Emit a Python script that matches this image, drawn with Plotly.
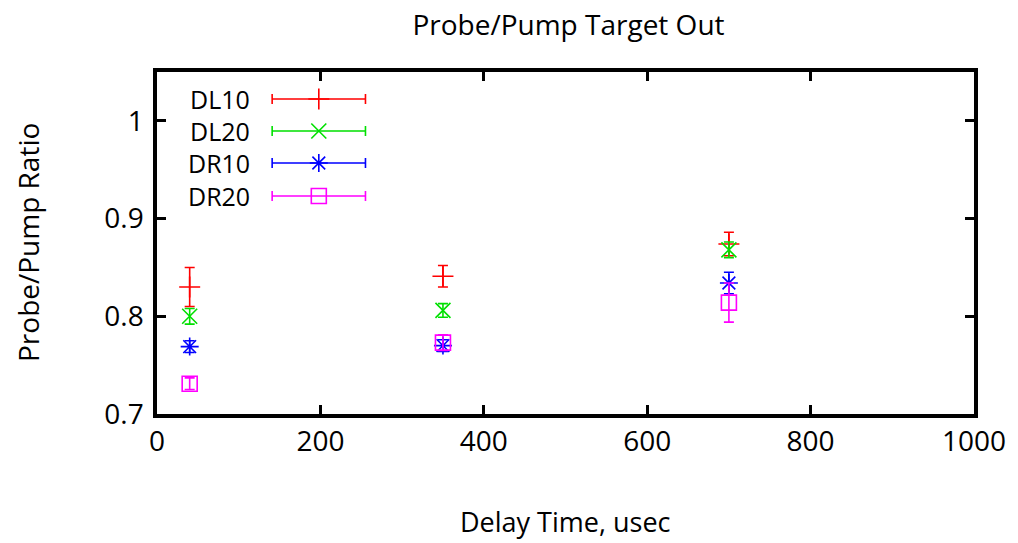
import plotly.graph_objects as go

# ---- data ----
delay = [40, 350, 700]
series_names = ["DL10", "DL20", "DR10", "DR20"]
dl10 = [0.830, 0.841, 0.874]
dl10_err = [0.020, 0.011, 0.012]
dl20 = [0.800, 0.806, 0.868]
dl20_err = [0.008, 0.007, 0.008]
dr10 = [0.769, 0.770, 0.834]
dr10_err = [0.006, 0.006, 0.011]
dr20 = [0.731, 0.773, 0.814]
dr20_err = [0.006, 0.008, 0.020]

x_ticks = [0, 200, 400, 600, 800, 1000]
y_ticks = [0.7, 0.8, 0.9, 1.0]
y_tick_labels = ["0.7", "0.8", "0.9", "1"]

colors = ["#ff0000", "#00e000", "#0000ff", "#ff00ff"]
symbols = ["cross-thin-open", "x-thin-open", "asterisk-open", "square-open"]
sizes = [15, 15, 15, 15]
values = [dl10, dl20, dr10, dr20]
errors = [dl10_err, dl20_err, dr10_err, dr20_err]

FONT = "Open Sans"
FS = 28
LEG_FS = 25
W, H = 1018, 543
L, R, T, B = 157, 38, 72, 129
pw, ph = W - L - R, H - T - B

fig = go.Figure()
for name, v, e, c, s, sz in zip(series_names, values, errors, colors, symbols, sizes):
    fig.add_trace(go.Scatter(
        x=delay, y=v, mode="markers", name=name, showlegend=False,
        marker=dict(symbol=s, size=sz, color=c, line=dict(color=c, width=1.6)),
        error_y=dict(type="data", array=e, visible=True, color=c, thickness=1.6, width=5),
    ))

# custom gnuplot-style legend keys on an overlay axis spanning the plot area (0..1)
row_px = [99, 131, 163, 196]
key_left, key_right, label_right = 273, 367, 252
for i, (name, c, s, sz) in enumerate(zip(series_names, colors, symbols, sizes)):
    cx = ((key_left + key_right) / 2 - L) / pw
    half = (key_right - key_left) / 2 / pw
    cy = (H - B - row_px[i]) / ph
    fig.add_trace(go.Scatter(
        x=[cx], y=[cy], xaxis="x2", yaxis="y2", mode="markers", showlegend=False,
        hoverinfo="skip",
        marker=dict(symbol=s, size=sz, color=c, line=dict(color=c, width=1.6)),
        error_x=dict(type="constant", value=half, visible=True, color=c, thickness=1.6, width=5),
    ))
    fig.add_annotation(x=(label_right - L) / pw, y=cy, xref="paper", yref="paper",
                       text=name, showarrow=False, xanchor="right", yanchor="middle",
                       borderpad=0,
                       font=dict(family=FONT, size=LEG_FS, color="black"))

# axis titles
fig.add_annotation(x=0.5, y=0, xref="paper", yref="paper", yshift=-(521 - (H - B)),
                   text="Delay Time, usec", showarrow=False, xanchor="center", yanchor="middle",
                   borderpad=0,
                   font=dict(family=FONT, size=27, color="black"))
fig.add_annotation(x=0, y=0.5, xref="paper", yref="paper", xshift=-(L - 28),
                   text="Probe/Pump Ratio", textangle=-90, showarrow=False,
                   xanchor="center", yanchor="middle",
                   font=dict(family=FONT, size=FS, color="black"))

axis_common = dict(showline=True, linecolor="black", linewidth=3.5, mirror="ticks",
                   ticks="inside", ticklen=9, tickwidth=3, tickcolor="black",
                   showgrid=False, zeroline=False,
                   tickfont=dict(family=FONT, size=FS, color="black"))

fig.update_layout(
    width=W, height=H,
    margin=dict(l=L, r=R, t=T, b=B),
    paper_bgcolor="white", plot_bgcolor="white",
    title=dict(text="Probe/Pump Target Out", x=(L + pw / 2) / W, xanchor="center",
               y=1 - 25 / H, yanchor="middle",
               font=dict(family=FONT, size=FS, color="black")),
    xaxis=dict(range=[0, 1000], tickvals=x_ticks, **axis_common),
    yaxis=dict(range=[0.7, 1.05], tickvals=y_ticks, ticktext=y_tick_labels,
               ticklabelstandoff=4, **axis_common),
    xaxis2=dict(range=[0, 1], overlaying="x", visible=False, fixedrange=True),
    yaxis2=dict(range=[0, 1], overlaying="y", visible=False, fixedrange=True),
)

fig.write_html("out.html", config={"displayModeBar": False},
               post_script="document.body.style.margin='0';")
